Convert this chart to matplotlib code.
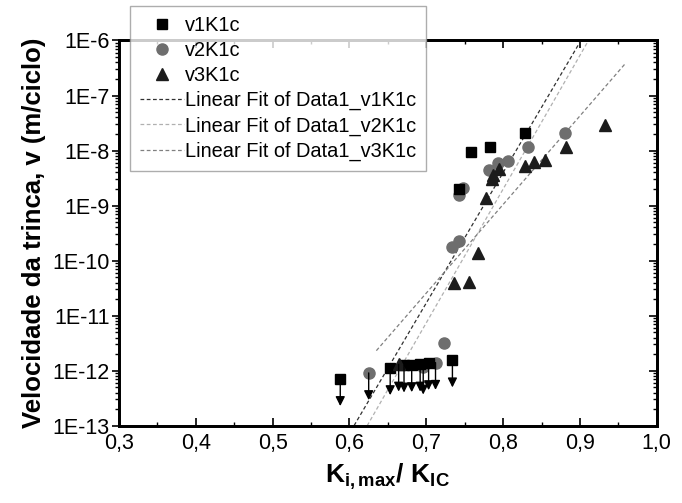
import numpy as np
import matplotlib
matplotlib.use("Agg")
import matplotlib.pyplot as plt
from matplotlib.ticker import FixedLocator, FuncFormatter, LogLocator, NullFormatter

plt.rcParams['font.family'] = ['Liberation Sans', 'DejaVu Sans']
plt.rcParams['mathtext.fontset'] = 'custom'
plt.rcParams['mathtext.rm'] = 'Liberation Sans:bold'
plt.rcParams['mathtext.it'] = 'Liberation Sans:bold'
plt.rcParams['mathtext.bf'] = 'Liberation Sans:bold'

# v1K1c (squares)
v1_x = [0.588, 0.653, 0.671, 0.681, 0.692, 0.703, 0.734, 0.743, 0.758, 0.783, 0.829]
v1_y = [7.1e-13, 1.12e-12, 1.25e-12, 1.27e-12, 1.3e-12, 1.38e-12, 1.55e-12, 2.0e-9, 9.5e-9, 1.17e-8, 2.1e-8]
v1_runout = [1, 1, 1, 1, 1, 1, 1, 0, 0, 0, 0]

# v2K1c (circles)
v2_x = [0.625, 0.696, 0.712, 0.723, 0.733, 0.742, 0.742, 0.748, 0.782, 0.793, 0.807, 0.833, 0.881]
v2_y = [9.1e-13, 1.15e-12, 1.4e-12, 3.2e-12, 1.8e-10, 2.3e-10, 1.55e-9, 2.05e-9, 4.4e-9, 5.9e-9, 6.4e-9, 1.17e-8, 2.1e-8]
v2_runout = [1, 1, 1, 0, 0, 0, 0, 0, 0, 0, 0, 0, 0]

# v3K1c (triangles)
v3_x = [0.664, 0.736, 0.755, 0.767, 0.778, 0.785, 0.787, 0.794, 0.829, 0.840, 0.855, 0.882, 0.933]
v3_y = [1.3e-12, 4.0e-11, 4.1e-11, 1.4e-10, 1.4e-9, 3.0e-9, 3.6e-9, 4.6e-9, 5.3e-9, 6.3e-9, 6.8e-9, 1.15e-8, 2.9e-8]
v3_runout = [1, 0, 0, 0, 0, 0, 0, 0, 0, 0, 0, 0, 0]

# linear fits of log10(v) = a + b*K, with their x range
fit_names = ['Linear Fit of Data1_v1K1c', 'Linear Fit of Data1_v2K1c', 'Linear Fit of Data1_v3K1c']
fit_a = [-27.36, -28.14, -21.86]
fit_b = [23.7, 24.3, 16.1]
fit_x0 = [0.606, 0.623, 0.635]
fit_x1 = [0.900, 0.913, 0.960]
fit_colors = ['#303030', '#b0b0b0', '#808080']

x_ticks = [0.3, 0.4, 0.5, 0.6, 0.7, 0.8, 0.9, 1.0]
y_ticks = [1e-13, 1e-12, 1e-11, 1e-10, 1e-9, 1e-8, 1e-7, 1e-6]

fig = plt.figure(figsize=(6.82, 5.03), dpi=100)
ax = fig.add_axes([0.1745, 0.1537, 0.7885, 0.7658])

# fits
for name, a, b, x0, x1, c in zip(fit_names, fit_a, fit_b, fit_x0, fit_x1, fit_colors):
    xx = np.linspace(x0, x1, 50)
    ax.plot(xx, 10 ** (a + b * xx), ls=(0, (3, 2)), lw=0.9, color=c, label=name, zorder=2)

ax.plot(v1_x, v1_y, 's', color='black', ms=7, ls='none', label='v1K1c', zorder=4)
ax.plot(v2_x, v2_y, 'o', color='#6e6e6e', ms=8, ls='none', label='v2K1c', zorder=3)
ax.plot(v3_x, v3_y, '^', color='#1c1c1c', ms=8.5, ls='none', label='v3K1c', zorder=5)

# runout arrows
for xs, ys, ro in [(v1_x, v1_y, v1_runout), (v2_x, v2_y, v2_runout), (v3_x, v3_y, v3_runout)]:
    for x, y, r in zip(xs, ys, ro):
        if r:
            ax.annotate('', xy=(x, y * 0.32), xytext=(x, y),
                        arrowprops=dict(arrowstyle='-|>', color='black', lw=1.0,
                                        mutation_scale=14, shrinkA=0, shrinkB=0),
                        zorder=6)

ax.set_yscale('log')
ax.set_xlim(0.3, 1.0)
ax.set_ylim(1e-13, 1e-6)

ax.xaxis.set_major_locator(FixedLocator(x_ticks))
ax.xaxis.set_minor_locator(FixedLocator(np.arange(0.35, 1.0, 0.1)))
ax.xaxis.set_major_formatter(FuncFormatter(lambda v, p: ('%.1f' % v).replace('.', ',')))
ax.yaxis.set_major_locator(FixedLocator(y_ticks))
ax.yaxis.set_minor_locator(LogLocator(base=10, subs=np.arange(2, 10), numticks=20))
ax.yaxis.set_minor_formatter(NullFormatter())
ax.yaxis.set_major_formatter(FuncFormatter(lambda v, p: '1E%d' % round(np.log10(v))))

ax.tick_params(axis='x', which='both', direction='in', top=True, labelsize=15.5, pad=5)
ax.tick_params(axis='x', which='major', length=6, width=1.2)
ax.tick_params(axis='x', which='minor', length=3, width=1.0)
ax.tick_params(axis='y', which='both', direction='out', labelsize=15.5, pad=1.5)
ax.tick_params(axis='y', which='major', length=5, width=1.2)
ax.tick_params(axis='y', which='minor', length=3, width=1.0)

# right axis ticks inward
ax2 = ax.twinx()
ax2.set_yscale('log')
ax2.set_ylim(1e-13, 1e-6)
ax2.yaxis.set_major_locator(FixedLocator(y_ticks))
ax2.yaxis.set_minor_locator(LogLocator(base=10, subs=np.arange(2, 10), numticks=20))
ax2.tick_params(axis='y', which='both', direction='in', labelright=False)
ax2.tick_params(axis='y', which='major', length=6, width=1.2)
ax2.tick_params(axis='y', which='minor', length=3, width=1.0)

for a in (ax, ax2):
    for s in a.spines.values():
        s.set_linewidth(2.0)

ax.set_ylabel('Velocidade da trinca, v (m/ciclo)', fontsize=18.5, fontweight='bold', labelpad=5)
ax.set_xlabel(r'$\mathbf{K_{i,max}/\ K_{IC}}$', fontsize=19, labelpad=6)

h, l = ax.get_legend_handles_labels()
order = [3, 4, 5, 0, 1, 2]
leg = fig.legend([h[i] for i in order], [l[i] for i in order], loc='upper left',
                 bbox_to_anchor=(0.1906, 0.988), fontsize=14.4, frameon=True, fancybox=False,
                 edgecolor='#999999', handlelength=2.2, handletextpad=0.05,
                 labelspacing=0.3, borderpad=0.5, borderaxespad=0)
leg.get_frame().set_linewidth(1.0)
leg.set_zorder(10)

fig.savefig('out.png', dpi=100)
